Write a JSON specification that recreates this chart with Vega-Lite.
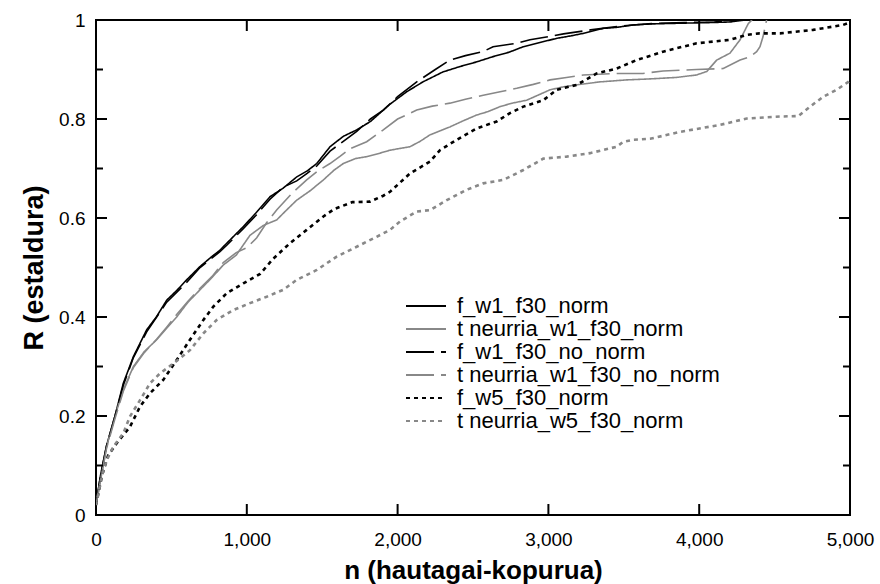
{
  "$schema": "https://vega.github.io/schema/vega-lite/v6.json",
  "width": 754,
  "height": 495,
  "autosize": {"type": "none"},
  "padding": {"left": 96, "top": 20, "right": 30, "bottom": 69},
  "config": {
    "font": "Liberation Sans",
    "view": {"stroke": "black", "strokeWidth": 2},
    "axis": {"domain": false, "grid": false, "ticks": false, "labelColor": "black", "titleColor": "black", "labelFont": "Liberation Sans", "titleFont": "Liberation Sans"},
    "legend": {"labelFont": "Liberation Sans", "labelFontSize": 22, "labelColor": "black", "labelLimit": 0}
  },
  "datasets": {
    "yMajor": [{"v": 0.2}, {"v": 0.4}, {"v": 0.6}, {"v": 0.8}],
    "yMinor": [{"v": 0.1}, {"v": 0.3}, {"v": 0.5}, {"v": 0.7}, {"v": 0.9}],
    "xMajor": [{"v": 1000}, {"v": 2000}, {"v": 3000}, {"v": 4000}],
    "curves": [
    {"s":"f_w1_f30_norm","n":0,"r":0.02},{"s":"f_w1_f30_norm","n":30,"r":0.08},{"s":"f_w1_f30_norm","n":70,"r":0.14},{"s":"f_w1_f30_norm","n":126,"r":0.2},{"s":"f_w1_f30_norm","n":181,"r":0.266},{"s":"f_w1_f30_norm","n":248,"r":0.32},{"s":"f_w1_f30_norm","n":336,"r":0.374},{"s":"f_w1_f30_norm","n":400,"r":0.4},{"s":"f_w1_f30_norm","n":469,"r":0.434},{"s":"f_w1_f30_norm","n":540,"r":0.455},{"s":"f_w1_f30_norm","n":601,"r":0.475},{"s":"f_w1_f30_norm","n":690,"r":0.502},{"s":"f_w1_f30_norm","n":760,"r":0.52},{"s":"f_w1_f30_norm","n":822,"r":0.535},{"s":"f_w1_f30_norm","n":867,"r":0.549},{"s":"f_w1_f30_norm","n":975,"r":0.582},{"s":"f_w1_f30_norm","n":1060,"r":0.61},{"s":"f_w1_f30_norm","n":1154,"r":0.643},{"s":"f_w1_f30_norm","n":1240,"r":0.66},{"s":"f_w1_f30_norm","n":1331,"r":0.683},{"s":"f_w1_f30_norm","n":1400,"r":0.695},{"s":"f_w1_f30_norm","n":1464,"r":0.71},{"s":"f_w1_f30_norm","n":1552,"r":0.744},{"s":"f_w1_f30_norm","n":1640,"r":0.765},{"s":"f_w1_f30_norm","n":1729,"r":0.778},{"s":"f_w1_f30_norm","n":1820,"r":0.795},{"s":"f_w1_f30_norm","n":1950,"r":0.83},{"s":"f_w1_f30_norm","n":2060,"r":0.855},{"s":"f_w1_f30_norm","n":2168,"r":0.875},{"s":"f_w1_f30_norm","n":2300,"r":0.895},{"s":"f_w1_f30_norm","n":2414,"r":0.906},{"s":"f_w1_f30_norm","n":2520,"r":0.915},{"s":"f_w1_f30_norm","n":2633,"r":0.926},{"s":"f_w1_f30_norm","n":2740,"r":0.935},{"s":"f_w1_f30_norm","n":2833,"r":0.946},{"s":"f_w1_f30_norm","n":2950,"r":0.955},{"s":"f_w1_f30_norm","n":3056,"r":0.963},{"s":"f_w1_f30_norm","n":3150,"r":0.968},{"s":"f_w1_f30_norm","n":3231,"r":0.973},{"s":"f_w1_f30_norm","n":3363,"r":0.983},{"s":"f_w1_f30_norm","n":3450,"r":0.985},{"s":"f_w1_f30_norm","n":3562,"r":0.99},{"s":"f_w1_f30_norm","n":3675,"r":0.992},{"s":"f_w1_f30_norm","n":3800,"r":0.993},{"s":"f_w1_f30_norm","n":3950,"r":0.994},{"s":"f_w1_f30_norm","n":4100,"r":0.995},{"s":"f_w1_f30_norm","n":4204,"r":0.996},{"s":"f_w1_f30_norm","n":4300,"r":1.0},
    {"s":"t neurria_w1_f30_norm","n":0,"r":0.02},{"s":"t neurria_w1_f30_norm","n":30,"r":0.07},{"s":"t neurria_w1_f30_norm","n":70,"r":0.138},{"s":"t neurria_w1_f30_norm","n":126,"r":0.2},{"s":"t neurria_w1_f30_norm","n":181,"r":0.253},{"s":"t neurria_w1_f30_norm","n":248,"r":0.3},{"s":"t neurria_w1_f30_norm","n":320,"r":0.33},{"s":"t neurria_w1_f30_norm","n":402,"r":0.354},{"s":"t neurria_w1_f30_norm","n":470,"r":0.378},{"s":"t neurria_w1_f30_norm","n":535,"r":0.4},{"s":"t neurria_w1_f30_norm","n":610,"r":0.43},{"s":"t neurria_w1_f30_norm","n":690,"r":0.455},{"s":"t neurria_w1_f30_norm","n":770,"r":0.48},{"s":"t neurria_w1_f30_norm","n":844,"r":0.505},{"s":"t neurria_w1_f30_norm","n":930,"r":0.525},{"s":"t neurria_w1_f30_norm","n":1021,"r":0.565},{"s":"t neurria_w1_f30_norm","n":1110,"r":0.585},{"s":"t neurria_w1_f30_norm","n":1198,"r":0.596},{"s":"t neurria_w1_f30_norm","n":1260,"r":0.615},{"s":"t neurria_w1_f30_norm","n":1331,"r":0.636},{"s":"t neurria_w1_f30_norm","n":1420,"r":0.655},{"s":"t neurria_w1_f30_norm","n":1508,"r":0.677},{"s":"t neurria_w1_f30_norm","n":1580,"r":0.697},{"s":"t neurria_w1_f30_norm","n":1640,"r":0.71},{"s":"t neurria_w1_f30_norm","n":1720,"r":0.72},{"s":"t neurria_w1_f30_norm","n":1795,"r":0.724},{"s":"t neurria_w1_f30_norm","n":1883,"r":0.731},{"s":"t neurria_w1_f30_norm","n":1950,"r":0.737},{"s":"t neurria_w1_f30_norm","n":2082,"r":0.744},{"s":"t neurria_w1_f30_norm","n":2150,"r":0.755},{"s":"t neurria_w1_f30_norm","n":2215,"r":0.768},{"s":"t neurria_w1_f30_norm","n":2347,"r":0.784},{"s":"t neurria_w1_f30_norm","n":2440,"r":0.797},{"s":"t neurria_w1_f30_norm","n":2524,"r":0.808},{"s":"t neurria_w1_f30_norm","n":2600,"r":0.815},{"s":"t neurria_w1_f30_norm","n":2679,"r":0.825},{"s":"t neurria_w1_f30_norm","n":2760,"r":0.832},{"s":"t neurria_w1_f30_norm","n":2856,"r":0.838},{"s":"t neurria_w1_f30_norm","n":2930,"r":0.848},{"s":"t neurria_w1_f30_norm","n":3011,"r":0.859},{"s":"t neurria_w1_f30_norm","n":3100,"r":0.865},{"s":"t neurria_w1_f30_norm","n":3188,"r":0.869},{"s":"t neurria_w1_f30_norm","n":3342,"r":0.875},{"s":"t neurria_w1_f30_norm","n":3519,"r":0.879},{"s":"t neurria_w1_f30_norm","n":3674,"r":0.881},{"s":"t neurria_w1_f30_norm","n":3850,"r":0.884},{"s":"t neurria_w1_f30_norm","n":3983,"r":0.889},{"s":"t neurria_w1_f30_norm","n":4050,"r":0.896},{"s":"t neurria_w1_f30_norm","n":4116,"r":0.919},{"s":"t neurria_w1_f30_norm","n":4204,"r":0.933},{"s":"t neurria_w1_f30_norm","n":4271,"r":0.96},{"s":"t neurria_w1_f30_norm","n":4326,"r":0.993},{"s":"t neurria_w1_f30_norm","n":4350,"r":1.0},
    {"s":"f_w1_f30_no_norm","n":0,"r":0.02},{"s":"f_w1_f30_no_norm","n":30,"r":0.08},{"s":"f_w1_f30_no_norm","n":70,"r":0.14},{"s":"f_w1_f30_no_norm","n":126,"r":0.2},{"s":"f_w1_f30_no_norm","n":181,"r":0.262},{"s":"f_w1_f30_no_norm","n":248,"r":0.318},{"s":"f_w1_f30_no_norm","n":336,"r":0.37},{"s":"f_w1_f30_no_norm","n":469,"r":0.43},{"s":"f_w1_f30_no_norm","n":601,"r":0.47},{"s":"f_w1_f30_no_norm","n":690,"r":0.5},{"s":"f_w1_f30_no_norm","n":822,"r":0.532},{"s":"f_w1_f30_no_norm","n":867,"r":0.545},{"s":"f_w1_f30_no_norm","n":975,"r":0.578},{"s":"f_w1_f30_no_norm","n":1060,"r":0.605},{"s":"f_w1_f30_no_norm","n":1154,"r":0.638},{"s":"f_w1_f30_no_norm","n":1240,"r":0.662},{"s":"f_w1_f30_no_norm","n":1331,"r":0.675},{"s":"f_w1_f30_no_norm","n":1400,"r":0.69},{"s":"f_w1_f30_no_norm","n":1464,"r":0.705},{"s":"f_w1_f30_no_norm","n":1552,"r":0.735},{"s":"f_w1_f30_no_norm","n":1640,"r":0.755},{"s":"f_w1_f30_no_norm","n":1729,"r":0.775},{"s":"f_w1_f30_no_norm","n":1820,"r":0.8},{"s":"f_w1_f30_no_norm","n":1905,"r":0.818},{"s":"f_w1_f30_no_norm","n":2000,"r":0.845},{"s":"f_w1_f30_no_norm","n":2127,"r":0.875},{"s":"f_w1_f30_no_norm","n":2250,"r":0.9},{"s":"f_w1_f30_no_norm","n":2347,"r":0.919},{"s":"f_w1_f30_no_norm","n":2450,"r":0.928},{"s":"f_w1_f30_no_norm","n":2566,"r":0.936},{"s":"f_w1_f30_no_norm","n":2633,"r":0.946},{"s":"f_w1_f30_no_norm","n":2790,"r":0.953},{"s":"f_w1_f30_no_norm","n":2878,"r":0.96},{"s":"f_w1_f30_no_norm","n":3032,"r":0.968},{"s":"f_w1_f30_no_norm","n":3100,"r":0.972},{"s":"f_w1_f30_no_norm","n":3280,"r":0.98},{"s":"f_w1_f30_no_norm","n":3400,"r":0.985},{"s":"f_w1_f30_no_norm","n":3560,"r":0.99},{"s":"f_w1_f30_no_norm","n":3700,"r":0.993},{"s":"f_w1_f30_no_norm","n":3900,"r":0.995},{"s":"f_w1_f30_no_norm","n":4100,"r":0.996},{"s":"f_w1_f30_no_norm","n":4250,"r":1.0},
    {"s":"t neurria_w1_f30_no_norm","n":0,"r":0.02},{"s":"t neurria_w1_f30_no_norm","n":30,"r":0.07},{"s":"t neurria_w1_f30_no_norm","n":70,"r":0.135},{"s":"t neurria_w1_f30_no_norm","n":126,"r":0.195},{"s":"t neurria_w1_f30_no_norm","n":181,"r":0.25},{"s":"t neurria_w1_f30_no_norm","n":248,"r":0.298},{"s":"t neurria_w1_f30_no_norm","n":320,"r":0.328},{"s":"t neurria_w1_f30_no_norm","n":402,"r":0.355},{"s":"t neurria_w1_f30_no_norm","n":470,"r":0.38},{"s":"t neurria_w1_f30_no_norm","n":535,"r":0.405},{"s":"t neurria_w1_f30_no_norm","n":610,"r":0.432},{"s":"t neurria_w1_f30_no_norm","n":690,"r":0.458},{"s":"t neurria_w1_f30_no_norm","n":770,"r":0.482},{"s":"t neurria_w1_f30_no_norm","n":844,"r":0.51},{"s":"t neurria_w1_f30_no_norm","n":930,"r":0.53},{"s":"t neurria_w1_f30_no_norm","n":1000,"r":0.54},{"s":"t neurria_w1_f30_no_norm","n":1066,"r":0.56},{"s":"t neurria_w1_f30_no_norm","n":1130,"r":0.59},{"s":"t neurria_w1_f30_no_norm","n":1198,"r":0.616},{"s":"t neurria_w1_f30_no_norm","n":1300,"r":0.65},{"s":"t neurria_w1_f30_no_norm","n":1397,"r":0.677},{"s":"t neurria_w1_f30_no_norm","n":1470,"r":0.695},{"s":"t neurria_w1_f30_no_norm","n":1552,"r":0.71},{"s":"t neurria_w1_f30_no_norm","n":1620,"r":0.725},{"s":"t neurria_w1_f30_no_norm","n":1684,"r":0.74},{"s":"t neurria_w1_f30_no_norm","n":1795,"r":0.754},{"s":"t neurria_w1_f30_no_norm","n":1905,"r":0.778},{"s":"t neurria_w1_f30_no_norm","n":2000,"r":0.8},{"s":"t neurria_w1_f30_no_norm","n":2127,"r":0.818},{"s":"t neurria_w1_f30_no_norm","n":2230,"r":0.826},{"s":"t neurria_w1_f30_no_norm","n":2347,"r":0.832},{"s":"t neurria_w1_f30_no_norm","n":2450,"r":0.84},{"s":"t neurria_w1_f30_no_norm","n":2568,"r":0.848},{"s":"t neurria_w1_f30_no_norm","n":2680,"r":0.855},{"s":"t neurria_w1_f30_no_norm","n":2790,"r":0.862},{"s":"t neurria_w1_f30_no_norm","n":2900,"r":0.87},{"s":"t neurria_w1_f30_no_norm","n":3011,"r":0.879},{"s":"t neurria_w1_f30_no_norm","n":3120,"r":0.884},{"s":"t neurria_w1_f30_no_norm","n":3231,"r":0.889},{"s":"t neurria_w1_f30_no_norm","n":3453,"r":0.892},{"s":"t neurria_w1_f30_no_norm","n":3627,"r":0.892},{"s":"t neurria_w1_f30_no_norm","n":3760,"r":0.897},{"s":"t neurria_w1_f30_no_norm","n":3983,"r":0.9},{"s":"t neurria_w1_f30_no_norm","n":4160,"r":0.902},{"s":"t neurria_w1_f30_no_norm","n":4271,"r":0.919},{"s":"t neurria_w1_f30_no_norm","n":4337,"r":0.926},{"s":"t neurria_w1_f30_no_norm","n":4381,"r":0.936},{"s":"t neurria_w1_f30_no_norm","n":4403,"r":0.946},{"s":"t neurria_w1_f30_no_norm","n":4423,"r":0.966},{"s":"t neurria_w1_f30_no_norm","n":4440,"r":0.99},{"s":"t neurria_w1_f30_no_norm","n":4447,"r":1.0},
    {"s":"f_w5_f30_norm","n":0,"r":0.02},{"s":"f_w5_f30_norm","n":40,"r":0.08},{"s":"f_w5_f30_norm","n":80,"r":0.12},{"s":"f_w5_f30_norm","n":137,"r":0.145},{"s":"f_w5_f30_norm","n":225,"r":0.178},{"s":"f_w5_f30_norm","n":292,"r":0.219},{"s":"f_w5_f30_norm","n":358,"r":0.246},{"s":"f_w5_f30_norm","n":446,"r":0.273},{"s":"f_w5_f30_norm","n":535,"r":0.313},{"s":"f_w5_f30_norm","n":623,"r":0.354},{"s":"f_w5_f30_norm","n":712,"r":0.394},{"s":"f_w5_f30_norm","n":778,"r":0.421},{"s":"f_w5_f30_norm","n":867,"r":0.448},{"s":"f_w5_f30_norm","n":977,"r":0.468},{"s":"f_w5_f30_norm","n":1088,"r":0.487},{"s":"f_w5_f30_norm","n":1176,"r":0.518},{"s":"f_w5_f30_norm","n":1286,"r":0.549},{"s":"f_w5_f30_norm","n":1397,"r":0.576},{"s":"f_w5_f30_norm","n":1508,"r":0.603},{"s":"f_w5_f30_norm","n":1580,"r":0.618},{"s":"f_w5_f30_norm","n":1640,"r":0.625},{"s":"f_w5_f30_norm","n":1700,"r":0.632},{"s":"f_w5_f30_norm","n":1817,"r":0.633},{"s":"f_w5_f30_norm","n":1905,"r":0.645},{"s":"f_w5_f30_norm","n":1950,"r":0.653},{"s":"f_w5_f30_norm","n":2082,"r":0.69},{"s":"f_w5_f30_norm","n":2215,"r":0.714},{"s":"f_w5_f30_norm","n":2281,"r":0.737},{"s":"f_w5_f30_norm","n":2392,"r":0.758},{"s":"f_w5_f30_norm","n":2524,"r":0.781},{"s":"f_w5_f30_norm","n":2657,"r":0.795},{"s":"f_w5_f30_norm","n":2745,"r":0.812},{"s":"f_w5_f30_norm","n":2834,"r":0.825},{"s":"f_w5_f30_norm","n":2966,"r":0.838},{"s":"f_w5_f30_norm","n":3055,"r":0.859},{"s":"f_w5_f30_norm","n":3188,"r":0.869},{"s":"f_w5_f30_norm","n":3320,"r":0.892},{"s":"f_w5_f30_norm","n":3453,"r":0.902},{"s":"f_w5_f30_norm","n":3585,"r":0.919},{"s":"f_w5_f30_norm","n":3760,"r":0.936},{"s":"f_w5_f30_norm","n":3983,"r":0.953},{"s":"f_w5_f30_norm","n":4204,"r":0.96},{"s":"f_w5_f30_norm","n":4315,"r":0.97},{"s":"f_w5_f30_norm","n":4400,"r":0.973},{"s":"f_w5_f30_norm","n":4536,"r":0.973},{"s":"f_w5_f30_norm","n":4755,"r":0.98},{"s":"f_w5_f30_norm","n":4954,"r":0.99},{"s":"f_w5_f30_norm","n":5000,"r":0.995},
    {"s":"t neurria_w5_f30_norm","n":0,"r":0.02},{"s":"t neurria_w5_f30_norm","n":40,"r":0.08},{"s":"t neurria_w5_f30_norm","n":70,"r":0.11},{"s":"t neurria_w5_f30_norm","n":115,"r":0.138},{"s":"t neurria_w5_f30_norm","n":181,"r":0.165},{"s":"t neurria_w5_f30_norm","n":225,"r":0.199},{"s":"t neurria_w5_f30_norm","n":292,"r":0.232},{"s":"t neurria_w5_f30_norm","n":358,"r":0.266},{"s":"t neurria_w5_f30_norm","n":424,"r":0.286},{"s":"t neurria_w5_f30_norm","n":513,"r":0.306},{"s":"t neurria_w5_f30_norm","n":623,"r":0.333},{"s":"t neurria_w5_f30_norm","n":712,"r":0.367},{"s":"t neurria_w5_f30_norm","n":800,"r":0.394},{"s":"t neurria_w5_f30_norm","n":910,"r":0.414},{"s":"t neurria_w5_f30_norm","n":1021,"r":0.428},{"s":"t neurria_w5_f30_norm","n":1132,"r":0.441},{"s":"t neurria_w5_f30_norm","n":1242,"r":0.455},{"s":"t neurria_w5_f30_norm","n":1331,"r":0.475},{"s":"t neurria_w5_f30_norm","n":1464,"r":0.495},{"s":"t neurria_w5_f30_norm","n":1596,"r":0.522},{"s":"t neurria_w5_f30_norm","n":1729,"r":0.542},{"s":"t neurria_w5_f30_norm","n":1861,"r":0.562},{"s":"t neurria_w5_f30_norm","n":1950,"r":0.576},{"s":"t neurria_w5_f30_norm","n":2016,"r":0.593},{"s":"t neurria_w5_f30_norm","n":2127,"r":0.613},{"s":"t neurria_w5_f30_norm","n":2215,"r":0.616},{"s":"t neurria_w5_f30_norm","n":2326,"r":0.636},{"s":"t neurria_w5_f30_norm","n":2458,"r":0.657},{"s":"t neurria_w5_f30_norm","n":2568,"r":0.67},{"s":"t neurria_w5_f30_norm","n":2701,"r":0.677},{"s":"t neurria_w5_f30_norm","n":2834,"r":0.697},{"s":"t neurria_w5_f30_norm","n":2966,"r":0.72},{"s":"t neurria_w5_f30_norm","n":3121,"r":0.724},{"s":"t neurria_w5_f30_norm","n":3276,"r":0.731},{"s":"t neurria_w5_f30_norm","n":3453,"r":0.744},{"s":"t neurria_w5_f30_norm","n":3497,"r":0.754},{"s":"t neurria_w5_f30_norm","n":3563,"r":0.758},{"s":"t neurria_w5_f30_norm","n":3674,"r":0.76},{"s":"t neurria_w5_f30_norm","n":3873,"r":0.774},{"s":"t neurria_w5_f30_norm","n":4138,"r":0.788},{"s":"t neurria_w5_f30_norm","n":4315,"r":0.801},{"s":"t neurria_w5_f30_norm","n":4536,"r":0.805},{"s":"t neurria_w5_f30_norm","n":4657,"r":0.806},{"s":"t neurria_w5_f30_norm","n":4735,"r":0.825},{"s":"t neurria_w5_f30_norm","n":4823,"r":0.845},{"s":"t neurria_w5_f30_norm","n":4911,"r":0.859},{"s":"t neurria_w5_f30_norm","n":4989,"r":0.875},{"s":"t neurria_w5_f30_norm","n":5000,"r":0.878}
  ]},
  "layer": [
    {
      "data": {"name": "curves"},
      "transform": [{"filter": "indexof(datum.s, 'w5') < 0"}],
      "mark": {"type": "line", "clip": true, "strokeWidth": 1.6},
      "encoding": {
        "x": {"field": "n", "type": "quantitative", "scale": {"domain": [0, 5000], "nice": false},
          "axis": {"orient": "bottom", "values": [0, 1000, 2000, 3000, 4000, 5000], "labelExpr": "format(datum.value, ',')", "labelPadding": 15, "labelFontSize": 19, "title": "n (hautagai-kopurua)", "titleFontSize": 26, "titleFontWeight": "bold", "titlePadding": 8, "labelFlush": false, "labelOverlap": false}},
        "y": {"field": "r", "type": "quantitative", "scale": {"domain": [0, 1], "nice": false},
          "axis": {"orient": "left", "values": [0, 0.2, 0.4, 0.6, 0.8, 1], "labelExpr": "format(datum.value, '~g')",
            "labelPadding": 11, "labelFontSize": 19, "title": "R (estaldura)", "titleFontSize": 27, "titleFontWeight": "bold", "titlePadding": 10, "labelFlush": false}},
        "detail": {"field": "s"},
        "color": {"field": "s", "type": "nominal", "sort": null,
          "scale": {"domain": ["f_w1_f30_norm", "t neurria_w1_f30_norm", "f_w1_f30_no_norm", "t neurria_w1_f30_no_norm", "f_w5_f30_norm", "t neurria_w5_f30_norm"], "range": ["#000000", "#888888", "#000000", "#888888", "#000000", "#888888"]},
          "legend": {"orient": "none", "legendX": 319, "legendY": 275, "title": null, "symbolType": "M-4,0H4", "symbolSize": 100, "symbolStrokeWidth": 2, "labelOffset": 20, "rowPadding": 1, "padding": 0}},
        "strokeDash": {"field": "s", "type": "nominal", "sort": null,
          "scale": {"domain": ["f_w1_f30_norm", "t neurria_w1_f30_norm", "f_w1_f30_no_norm", "t neurria_w1_f30_no_norm", "f_w5_f30_norm", "t neurria_w5_f30_norm"], "range": [[1, 0], [1, 0], [28, 7], [28, 7], [4, 4], [4, 4]]},
          "legend": {"orient": "none", "legendX": 319, "legendY": 275, "title": null, "symbolType": "M-4,0H4", "symbolSize": 100, "symbolStrokeWidth": 2, "labelOffset": 20, "rowPadding": 1, "padding": 0}}
      }
    },
    {
      "data": {"name": "curves"},
      "transform": [{"filter": "indexof(datum.s, 'w5') >= 0"}],
      "mark": {"type": "line", "clip": true, "strokeWidth": 2.6},
      "encoding": {
        "x": {"field": "n", "type": "quantitative", "axis": null},
        "y": {"field": "r", "type": "quantitative", "axis": null},
        "detail": {"field": "s"},
        "color": {"field": "s", "type": "nominal", "sort": null},
        "strokeDash": {"field": "s", "type": "nominal", "sort": null}
      }
    },
    {
      "data": {"name": "yMajor"},
      "mark": {"type": "tick", "orient": "horizontal", "size": 12, "thickness": 2, "xOffset": 5, "color": "black", "opacity": 1},
      "encoding": {"x": {"datum": 0, "type": "quantitative", "axis": null}, "y": {"field": "v", "type": "quantitative", "axis": null}}
    },
    {
      "data": {"name": "yMajor"},
      "mark": {"type": "tick", "orient": "horizontal", "size": 12, "thickness": 2, "xOffset": -5, "color": "black", "opacity": 1},
      "encoding": {"x": {"datum": 5000, "type": "quantitative", "axis": null}, "y": {"field": "v", "type": "quantitative", "axis": null}}
    },
    {
      "data": {"name": "yMinor"},
      "mark": {"type": "tick", "orient": "horizontal", "size": 8, "thickness": 2, "xOffset": 3, "color": "black", "opacity": 1},
      "encoding": {"x": {"datum": 0, "type": "quantitative", "axis": null}, "y": {"field": "v", "type": "quantitative", "axis": null}}
    },
    {
      "data": {"name": "yMinor"},
      "mark": {"type": "tick", "orient": "horizontal", "size": 8, "thickness": 2, "xOffset": -3, "color": "black", "opacity": 1},
      "encoding": {"x": {"datum": 5000, "type": "quantitative", "axis": null}, "y": {"field": "v", "type": "quantitative", "axis": null}}
    },
    {
      "data": {"name": "xMajor"},
      "mark": {"type": "tick", "orient": "vertical", "size": 12, "thickness": 2, "yOffset": -5, "color": "black", "opacity": 1},
      "encoding": {"x": {"field": "v", "type": "quantitative", "axis": null}, "y": {"datum": 0, "type": "quantitative", "axis": null}}
    },
    {
      "data": {"name": "xMajor"},
      "mark": {"type": "tick", "orient": "vertical", "size": 12, "thickness": 2, "yOffset": 5, "color": "black", "opacity": 1},
      "encoding": {"x": {"field": "v", "type": "quantitative", "axis": null}, "y": {"datum": 1, "type": "quantitative", "axis": null}}
    }
  ],
  "resolve": {"axis": {"x": "independent", "y": "independent"}}
}
